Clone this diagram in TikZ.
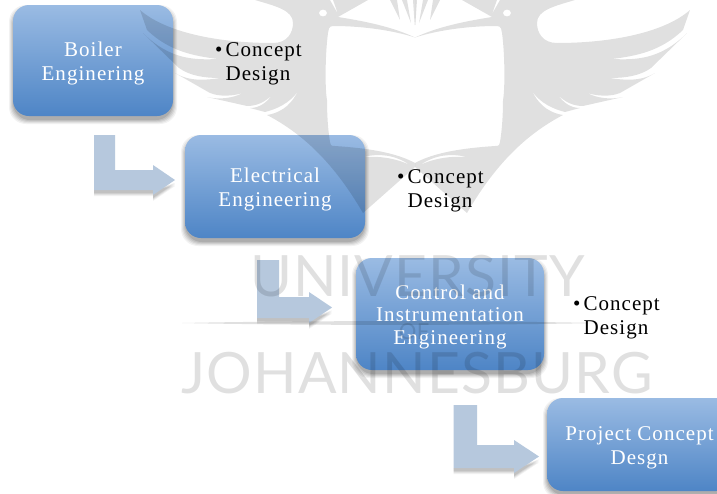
\documentclass[tikz,border=0pt]{standalone}
\usepackage{fontspec}
\setmainfont[LetterSpace=5]{Liberation Serif}
\newfontfamily\wmfont[LetterSpace=2]{Lato}
\tikzset{
  boxst/.style={rounded corners=16pt, top color=boxtop, bottom color=boxbot, draw=none, text=white, align=center, inner sep=0pt, font=\fontsize{21}{24}\selectfont},
  wmfill/.style={fill=black, fill opacity=.12},
  wmtext/.style={text=black, text opacity=.12, inner sep=0pt, anchor=base},
  notes/.style={inner sep=0pt, anchor=west, text=black, font=\fontsize{21}{24}\selectfont},
  arrowst/.style={fill=arrowblue},
}
\definecolor{boxtop}{HTML}{9ABBE3}
\definecolor{boxbot}{HTML}{4E85C6}
\definecolor{arrowblue}{HTML}{B6C8DD}
\newcommand{\softshadow}[4]{% x0 y0 x1 y1
  \foreach \g/\o in {4/.05,3/.06,2/.07,1/.08,0/.10}{
    \fill[black, fill opacity=\o, rounded corners=17pt] (#1-\g,#2+4-\g) rectangle (#3+\g,#4+4+\g);
  }}
\newcommand{\boxtext}[2]{\raisebox{-8pt}[0pt][0pt]{\parbox{#1}{\centering #2}}}
\newcommand{\birdhalf}{%
  \fill[wmfill, even odd rule]
    (0,167) -- (52,213) .. controls (80,165) and (110,135) .. (148,115)
    .. controls (130,112) and (122,101) .. (117,91)
    .. controls (125,103) and (138,109) .. (150,112)
    -- (165,108)
    .. controls (155,108) and (148,102) .. (143,95)
    .. controls (150,102) and (158,106) .. (168,106)
    -- (208,97)
    .. controls (195,100) and (182,98) .. (172,93)
    .. controls (182,96) and (195,97) .. (205,93)
    -- (240,73)
    .. controls (225,82) and (208,80) .. (195,78)
    .. controls (210,78) and (225,76) .. (236,68)
    -- (272,33)
    .. controls (245,60) and (220,60) .. (197,59)
    .. controls (220,56) and (245,52) .. (268,30)
    -- (275,10)
    .. controls (250,32) and (198,43) .. (142,43)
    .. controls (128,43) and (122,33) .. (122,23)
    .. controls (122,10) and (140,6) .. (160,0)
    -- (85,0) -- (77,14) -- (82,0)
    -- (47,0) -- (77,17)
    .. controls (45,22) and (20,28) .. (0,37.5)
    .. controls (20,31) and (50,26) .. (82,26)
    .. controls (86,26) and (87,30) .. (87,33)
    .. controls (90,55) and (90,90) .. (88,100)
    .. controls (88,115) and (87,130) .. (85,142)
    .. controls (85,145) and (84,146) .. (80,146)
    .. controls (50,148) and (20,152) .. (0,163) -- cycle
    (5,165) .. controls (20,155) and (35,153) .. (52,157)
    .. controls (35,156) and (20,158) .. (5,165) -- cycle
    (92,13) ellipse [x radius=4, y radius=3.5];
  \fill[wmfill] (2,0) -- (0.3,25) -- (0,25) -- (0,0) -- cycle;
  \fill[wmfill] (8,0) -- (13,0) -- (4,23) -- cycle;
  \fill[wmfill] (18,0) -- (25,0) -- (15,20) -- cycle;
}
\begin{document}
\begin{tikzpicture}[x=1pt,y=-1pt]
\useasboundingbox (0,0) rectangle (717,493);
\clip (0,0) rectangle (717,493);
\fill[white] (0,0) rectangle (717,493);

% arrow shadows
\foreach \d/\o in {6/.05,5/.06,4/.07,3/.08}{
  \fill[black, fill opacity=\o] (94,190) -- ++(0,\d) -- (153,190+\d) -- (153,195+\d) -- (175,180+\d) -- (153,190) -- cycle;
  \fill[black, fill opacity=\o] (257,318) -- ++(0,\d) -- (309,318+\d) -- (309,323+\d) -- (332,307.5+\d) -- (309,318) -- cycle;
  \fill[black, fill opacity=\o] (453.5,468) -- ++(0,\d) -- (514,468+\d) -- (514,473+\d) -- (539,456.5+\d) -- (514,468) -- cycle;
}
% bent arrows
\coordinate (a1) at (94,135);
\coordinate (a2) at (257,260);
\coordinate (a3) at (453.5,405);
\fill[arrowst] (a1) -- (115,135) -- (115,170) -- (153,170) -- (153,165) -- (175,180) -- (153,195) -- (153,190) -- (94,190) -- cycle;
\fill[arrowst] (a2) -- (279,260) -- (279,297) -- (309,297) -- (309,292) -- (332,307.5) -- (309,323) -- (309,318) -- (257,318) -- cycle;
\fill[arrowst] (a3) -- (477,405) -- (477,445) -- (514,445) -- (514,440) -- (539,456.5) -- (514,473) -- (514,468) -- (453.5,468) -- cycle;

% boxes
\softshadow{13}{5}{173}{116}
\softshadow{185}{135}{365}{238}
\softshadow{356}{258}{544}{370}
\softshadow{547}{398}{732}{491}
\node[boxst, minimum width=160pt, minimum height=111pt] (b1) at (93,60.5) {\boxtext{150pt}{Boiler\\Enginering}};
\node[boxst, minimum width=180pt, minimum height=103pt] (b2) at (275,186.5) {\boxtext{170pt}{Electrical\\Engineering}};
\node[boxst, minimum width=188pt, minimum height=112pt, font=\fontsize{21}{22.5}\selectfont] (b3) at (450,314) {\boxtext{180pt}{Control and\\Instrumentation\\Engineering}};
\node[boxst, minimum width=185pt, minimum height=93pt] (b4) at (639.5,444.5) {\boxtext{170pt}{Project Concept\\Desgn}};

% watermark
\begin{scope}[shift={(415,0)}]
  \birdhalf
  \begin{scope}[xscale=-1]
    \birdhalf
  \end{scope}
\end{scope}
\fill[wmfill] (182,323) .. controls (300,320.5) and (480,320.5) .. (598,323) .. controls (480,325.5) and (300,325.5) .. (182,323) -- cycle;
\node[wmtext, font=\wmfont\fontsize{57}{57}\selectfont] (wu) at (417.5,296) {UNIVERSITY};
\node[wmtext, font=\wmfont\fontsize{22}{22}\selectfont] (wo) at (414,339) {OF};
\node[wmtext, font=\wmfont\fontsize{57}{57}\selectfont] (wj) at (417,393) {JOHANNESBURG};

% notes
\node[notes] (c1) at (215,64) {\begin{tabular}{@{}l@{\hspace{3pt}}l@{}}•&Concept\\&Design\end{tabular}};
\node[notes] (c2) at (397,191) {\begin{tabular}{@{}l@{\hspace{3pt}}l@{}}•&Concept\\&Design\end{tabular}};
\node[notes] (c3) at (573,318) {\begin{tabular}{@{}l@{\hspace{3pt}}l@{}}•&Concept\\&Design\end{tabular}};
\end{tikzpicture}
\end{document}
